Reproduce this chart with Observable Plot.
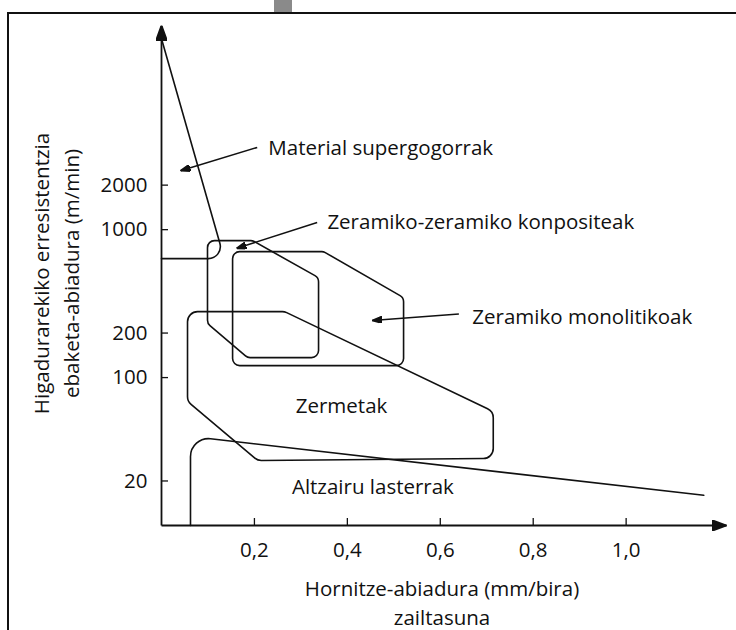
<!DOCTYPE html>
<html><head><meta charset="utf-8">
<script src="https://cdn.jsdelivr.net/npm/d3@7"></script>
<script src="https://cdn.jsdelivr.net/npm/@observablehq/plot@0.6"></script>
<style>
html,body{margin:0;padding:0;background:#fff;}
#wrap{position:relative;width:736px;height:630px;overflow:hidden;background:#fff;}
#tab{position:absolute;left:274px;top:0;width:18px;height:12px;background:#8a8a8a;}
#frame{position:absolute;left:7px;top:12px;width:1000px;height:1000px;border-left:2px solid #111;border-top:2px solid #111;}
#chart{position:absolute;left:0;top:0;}
</style></head><body>
<div id="wrap"><div id="tab"></div><div id="frame"></div><div id="chart"></div></div>
<script>
// ---- data (x: feed rate mm/bira, y: cutting speed m/min, log) ----
const xTicks = [0.2, 0.4, 0.6, 0.8, 1.0];
const yTicks = [20, 100, 200, 1000, 2000];
const xMax = 1.216;
const yMin = 10;
const yMax = 24000;

// Material supergogorrak (open path)
const superX = [0, 0.135, 0];
const superY = [19500, 637, 637];
// Zeramiko-zeramiko konpositeak
const zzX = [0.099, 0.196, 0.338, 0.338, 0.185, 0.099];
const zzY = [843, 843, 474, 136.5, 136.5, 232];
// Zeramiko monolitikoak
const zmX = [0.153, 0.349, 0.521, 0.521, 0.153];
const zmY = [710, 710, 347, 120.5, 120.5];
// Zermetak
const zerX = [0.056, 0.265, 0.714, 0.714, 0.207, 0.056];
const zerY = [279, 279, 59, 28.4, 27.5, 69];
// Altzairu lasterrak (open path)
const altX = [0.0624, 0.0624, 1.167];
const altY = [10, 40, 16];

// labels placed to the right of their pointer arrows
const ptrLabelText = ["Material supergogorrak", "Zeramiko-zeramiko konpositeak", "Zeramiko monolitikoak"];
const ptrLabelX = [0.230, 0.357, 0.669];
const ptrLabelY = [3530, 1115, 254];
// labels centred inside their regions
const regionLabelText = ["Zermetak", "Altzairu lasterrak"];
const regionLabelX = [0.3875, 0.455];
const regionLabelY = [63.4, 18.1];

// pointer arrows
const ptrFromX = [0.206, 0.335, 0.640];
const ptrFromY = [3597, 1119, 269];
const ptrToX = [0.041, 0.1615, 0.4536];
const ptrToY = [2504, 747, 243];

const xTitle = "Hornitze-abiadura (mm/bira)\nzailtasuna";
const yTitle = "Higadurarekiko erresistentzia\nebaketa-abiadura (m/min)";

// ---- helpers ----
const pts = (xs, ys) => xs.map((x, i) => ({x, y: ys[i]}));

function roundedCurve(r, closed) {
  return (context) => {
    let p = [];
    return {
      areaStart() {}, areaEnd() {},
      lineStart() { p = []; },
      point(x, y) { p.push([+x, +y]); },
      lineEnd() {
        const n = p.length;
        if (!n) return;
        if (closed) {
          const m0 = (p[n - 1][0] + p[0][0]) / 2, m1 = (p[n - 1][1] + p[0][1]) / 2;
          context.moveTo(m0, m1);
          for (let i = 0; i < n; i++) {
            const a = p[i], b = p[(i + 1) % n];
            context.arcTo(a[0], a[1], (a[0] + b[0]) / 2, (a[1] + b[1]) / 2, r);
          }
          context.closePath();
        } else {
          context.moveTo(p[0][0], p[0][1]);
          for (let i = 1; i < n - 1; i++) context.arcTo(p[i][0], p[i][1], p[i + 1][0], p[i + 1][1], r);
          context.lineTo(p[n - 1][0], p[n - 1][1]);
        }
      }
    };
  };
}

const NS = "http://www.w3.org/2000/svg";
function arrowHead(len, wid) {
  return (color, context) => {
    const doc = (context && context.document) || document;
    const m = doc.createElementNS(NS, "marker");
    m.setAttribute("viewBox", `${-len} ${-wid / 2} ${len} ${wid}`);
    m.setAttribute("refX", 0);
    m.setAttribute("refY", 0);
    m.setAttribute("markerWidth", len);
    m.setAttribute("markerHeight", wid);
    m.setAttribute("markerUnits", "userSpaceOnUse");
    m.setAttribute("orient", "auto");
    const path = doc.createElementNS(NS, "path");
    path.setAttribute("d", `M${-len},${-wid / 2}L0,0L${-len},${wid / 2}Z`);
    path.setAttribute("fill", color && color !== "none" ? color : "#111");
    m.appendChild(path);
    return m;
  };
}

const ink = "#111";
const sw = 1.6;
const fs = 20.5;
const shape = (xs, ys, r, closed) =>
  Plot.line(pts(xs, ys), {x: "x", y: "y", curve: roundedCurve(r, closed), stroke: ink, strokeWidth: sw, strokeLinejoin: "round"});

const ptrLabels = ptrLabelText.map((t, i) => ({t, x: ptrLabelX[i], y: ptrLabelY[i]}));
const regionLabels = regionLabelText.map((t, i) => ({t, x: regionLabelX[i], y: regionLabelY[i]}));
const ptrs = ptrFromX.map((x, i) => ({x1: x, y1: ptrFromY[i], x2: ptrToX[i], y2: ptrToY[i]}));

const chart = Plot.plot({
  width: 736,
  height: 630,
  marginLeft: 161,
  marginRight: 10,
  marginTop: 25,
  marginBottom: 105,
  x: {domain: [0, xMax], axis: null},
  y: {type: "log", domain: [yMin, yMax], axis: null},
  style: {fontFamily: "'Open Sans', sans-serif", fontSize: fs + "px", background: "transparent", color: ink, overflow: "visible"},
  marks: [
    // axes with arrow heads
    Plot.link([{x1: 0, y1: yMin, x2: 0, y2: yMax}], {x1: "x1", y1: "y1", x2: "x2", y2: "y2", stroke: ink, strokeWidth: 1.8, markerEnd: arrowHead(15, 11)}),
    Plot.link([{x1: 0, y1: yMin, x2: xMax, y2: yMin}], {x1: "x1", y1: "y1", x2: "x2", y2: "y2", stroke: ink, strokeWidth: 1.8, markerEnd: arrowHead(15, 11)}),
    // tick marks (inside)
    Plot.tickX(xTicks, {x: (d) => d, insetTop: 493, stroke: ink, strokeWidth: 1.3}),
    Plot.tickY(yTicks, {y: (d) => d, insetRight: 558, stroke: ink, strokeWidth: 1.3}),
    // tick labels
    Plot.axisX(xTicks, {tickSize: 0, tickPadding: 17, tickFormat: (d) => d.toFixed(1).replace(".", ","), fontSize: fs, label: null}),
    Plot.axisY(yTicks, {tickSize: 0, tickPadding: 14, tickFormat: (d) => String(d), fontSize: fs, label: null}),
    // axis titles
    Plot.text([xTitle], {frameAnchor: "bottom", dx: -2, dy: 51, textAnchor: "middle", lineAnchor: "top", lineHeight: 1.37, fontSize: fs, fill: ink}),
    Plot.text([yTitle], {frameAnchor: "left", dx: -107, dy: -2, rotate: -90, textAnchor: "middle", lineAnchor: "middle", lineHeight: 1.46, fontSize: fs, fill: ink}),
    // regions
    shape(superX, superY, 12, false),
    shape(zzX, zzY, 7, true),
    shape(zmX, zmY, 7, true),
    shape(zerX, zerY, 10, true),
    shape(altX, altY, 18, false),
    // pointer arrows
    Plot.link(ptrs, {x1: "x1", y1: "y1", x2: "x2", y2: "y2", stroke: ink, strokeWidth: 1.5, markerEnd: arrowHead(10, 7)}),
    // labels
    Plot.text(ptrLabels, {x: "x", y: "y", text: "t", textAnchor: "start", fontSize: fs, fill: ink}),
    Plot.text(regionLabels, {x: "x", y: "y", text: "t", textAnchor: "middle", fontSize: fs, fill: ink})
  ]
});
document.getElementById("chart").appendChild(chart);
</script></body></html>
